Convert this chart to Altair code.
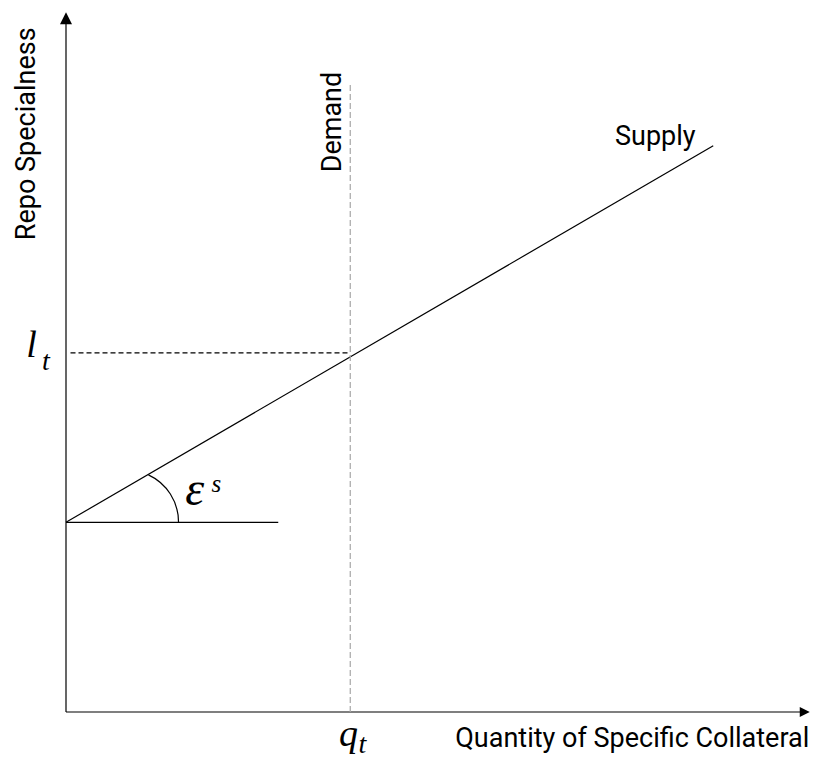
import altair as alt
import pandas as pd

# ---- data (quantity q on x, specialness s on y; axes run from 0 to ~100) ----
xaxis_q = [0.0, 97.9]
xaxis_s = [0.0, 0.0]
yaxis_q = [0.0, 0.0]
yaxis_s = [0.0, 98.6]

supply_q = [0.0, 86.3]
supply_s = [27.1, 80.9]

base_q = [0.0, 28.3]
base_s = [27.1, 27.1]

demand_q = [37.9, 37.9]
demand_s = [0.0, 90.0]

eq_q = [0.6, 37.9]
eq_s = [51.3, 51.3]

arrow_q = [98.5, 0.0]
arrow_s = [0.0, 99.1]

arc_q = [8.07]
arc_s = [27.14]

word_labels = ["Supply", "Quantity of Specific Collateral"]
word_q = [73.2, 51.9]
word_s = [81.0, -5.0]

vert_labels = ["Demand", "Repo Specialness"]
vert_q = [36.6, -4.1]
vert_s = [77.1, 67.4]

math_labels = ["l", "q"]
math_q = [-5.3, 36.4]
math_s = [50.7, -4.8]

sub_labels = ["t", "t"]
sub_q = [-3.2, 39.0]
sub_s = [48.9, -5.9]

eps_label = ["ε"]
eps_q = [15.9]
eps_s = [29.6]

sup_label = ["s"]
sup_q = [19.4]
sup_s = [31.4]

# ---- scales ----
W, H = 802, 752
XS = alt.Scale(domain=[-58 / 7.5, (W - 58) / 7.5], nice=False, zero=False)
YS = alt.Scale(domain=[(712 - 760) / 7, (712 - 8) / 7], nice=False, zero=False)

COND = "Roboto, Liberation Sans, sans-serif"
SERIF = "Liberation Serif, DejaVu Serif, serif"


def enc(ch):
    return ch.encode(
        x=alt.X("q:Q", scale=XS, axis=None),
        y=alt.Y("s:Q", scale=YS, axis=None),
    )


def line(qs, ss, **kw):
    df = pd.DataFrame({"q": qs, "s": ss})
    return enc(alt.Chart(df).mark_line(**kw))


def texts(labels, qs, ss, **kw):
    df = pd.DataFrame({"q": qs, "s": ss, "t": labels})
    return enc(alt.Chart(df).mark_text(align="left", baseline="alphabetic", color="black", **kw)).encode(
        text="t:N"
    )


layers = [
    line(xaxis_q, xaxis_s, color="black", strokeWidth=1.2),
    line(yaxis_q, yaxis_s, color="black", strokeWidth=1.2),
    line(supply_q, supply_s, color="black", strokeWidth=1.2),
    line(base_q, base_s, color="black", strokeWidth=1.2),
    line(demand_q, demand_s, color="#a6a6a6", strokeWidth=1.2, strokeDash=[6, 3]),
    line(eq_q, eq_s, color="black", strokeWidth=1.2, strokeDash=[5, 3]),
    enc(
        alt.Chart(pd.DataFrame({"q": [arrow_q[0]], "s": [arrow_s[0]]})).mark_point(
            shape="M -1 -1 L 1 0 L -1 1 Z", size=100, filled=True, color="black", opacity=1
        )
    ),
    enc(
        alt.Chart(pd.DataFrame({"q": [arrow_q[1]], "s": [arrow_s[1]]})).mark_point(
            shape="M 0 -1 L 1 1 L -1 1 Z", size=144, filled=True, color="black", opacity=1
        )
    ),
    enc(
        alt.Chart(pd.DataFrame({"q": arc_q, "s": arc_s})).mark_arc(
            theta=0.435, theta2=1.5708, radius=52, radius2=52,
            filled=False, stroke="black", strokeWidth=1.2, fill=None
        )
    ),
    texts(word_labels, word_q, word_s, font=COND, fontSize=27),
    texts(vert_labels, vert_q, vert_s, font=COND, fontSize=27, angle=270),
    texts(math_labels, math_q, math_s, font=SERIF, fontSize=38, fontStyle="italic"),
    texts(sub_labels, sub_q, sub_s, font=SERIF, fontSize=28, fontStyle="italic"),
    texts(eps_label, eps_q, eps_s, font=SERIF, fontSize=48, fontStyle="italic"),
    texts(sup_label, sup_q, sup_s, font=SERIF, fontSize=25, fontStyle="italic"),
]

chart = (
    alt.layer(*layers)
    .properties(width=W, height=H, padding=0, autosize="none")
    .configure_view(stroke=None)
)

chart.save("out.html", embed_options={"renderer": "svg", "actions": False})
